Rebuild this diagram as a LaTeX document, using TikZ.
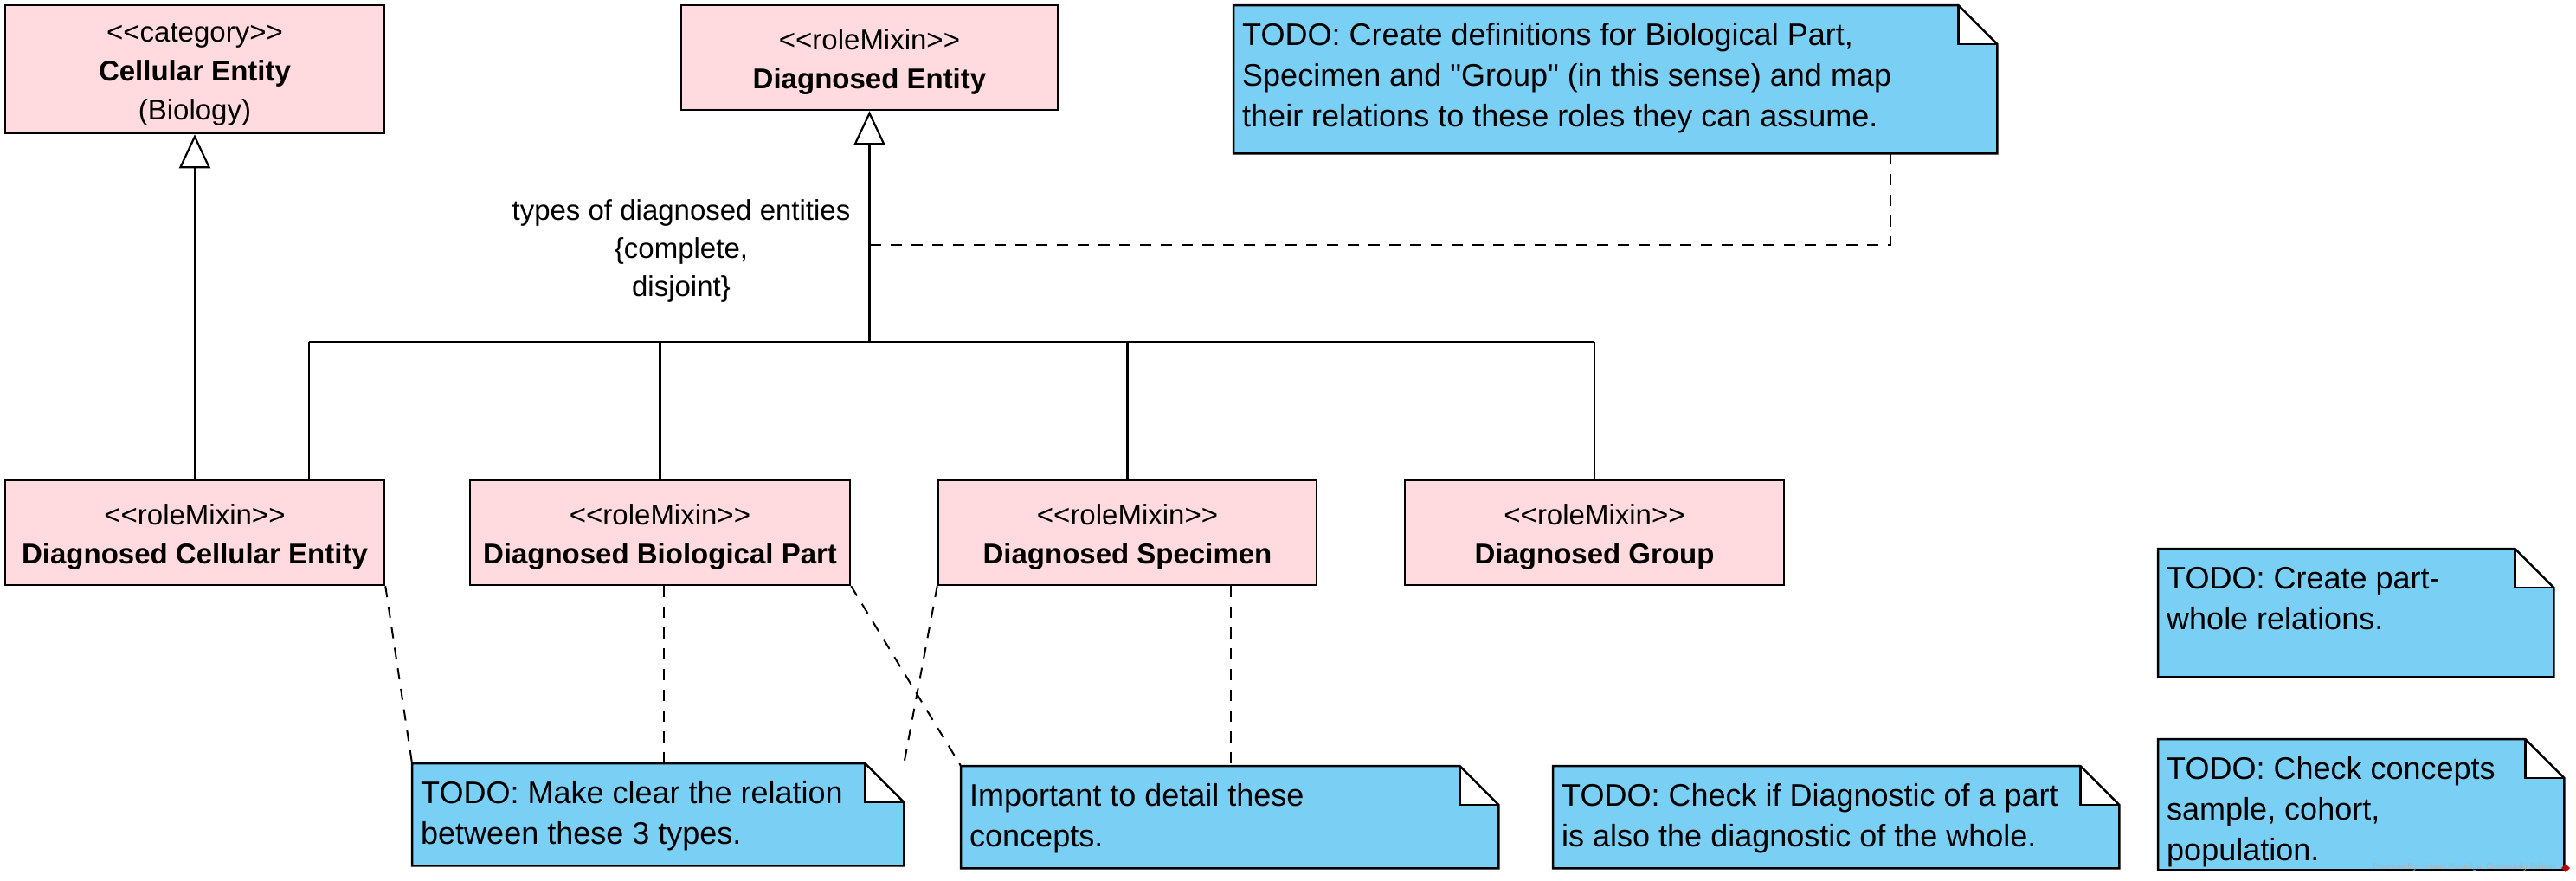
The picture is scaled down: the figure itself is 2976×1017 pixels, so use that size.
\documentclass[tikz,border=0pt]{standalone}
\usepackage{fontspec}
\newfontfamily\umlfont{Liberation Sans}
\usetikzlibrary{arrows.meta,calc}

\definecolor{classpink}{RGB}{255,218,222}
\definecolor{noteblue}{RGB}{122,207,245}

% size of the dog-eared corner of a note
\newcommand\notefoldlen{45pt}
% note body: fixed-size box, text hanging from the top with a left inset
\newcommand\notetext[3]{\parbox[c][#2pt][t]{#1pt}{\raggedright\leftskip=10pt\relax\rule{0pt}{46pt}#3}}
% extra head room on the first line of a class compartment
\newcommand\classstrut{\rule{0pt}{34pt}}
% outline and folded corner of a note node
\newcommand\drawnote[1]{%
  \fill[white] ([xshift=-\notefoldlen]#1.north east) rectangle ([yshift=-\notefoldlen]#1.north east);
  \draw[noteline] (#1.north west) -- ([xshift=-\notefoldlen]#1.north east)
    -- ([yshift=-\notefoldlen]#1.north east) -- (#1.south east) -- (#1.south west) -- cycle;
  \draw[noteline] ([xshift=-\notefoldlen]#1.north east) |- ([yshift=-\notefoldlen]#1.north east);
}

\begin{document}
\begin{tikzpicture}[x=1pt,y=-1pt,
  classbox/.style={draw, line width=2.5pt, fill=classpink, inner sep=0pt, align=center,
    font=\umlfont\fontsize{33}{45}\selectfont},
  note/.style={fill=noteblue, inner sep=0pt, anchor=north west,
    font=\umlfont\fontsize{36}{47}\selectfont},
  noteline/.style={line width=2.5pt, line join=miter},
  genline/.style={line width=2.2pt},
  genarrow/.style={genline, -{Triangle[open, fill=white, length=39pt, width=36pt, line width=2.2pt]}},
  anchorline/.style={line width=2pt, dash pattern=on 13pt off 11pt},
  constraint/.style={inner sep=0pt, align=center, font=\umlfont\fontsize{33}{44}\selectfont}
]
\fill[white] (0,0) rectangle (2976,1017);
\useasboundingbox (0,0) rectangle (2976,1017);

% classes
\node[classbox, minimum width=438pt, minimum height=148pt] (CE) at (225,80)
  {\classstrut<<category>>\\\textbf{Cellular Entity}\\(Biology)};
\node[classbox, minimum width=435pt, minimum height=121pt] (DE) at (1004.5,66.5)
  {\classstrut<<roleMixin>>\\\textbf{Diagnosed Entity}};
\node[classbox, minimum width=438pt, minimum height=121pt] (DCE) at (225,615.5)
  {\classstrut<<roleMixin>>\\\textbf{Diagnosed Cellular Entity}};
\node[classbox, minimum width=439pt, minimum height=121pt] (BP) at (762.5,615.5)
  {\classstrut<<roleMixin>>\\\textbf{Diagnosed Biological Part}};
\node[classbox, minimum width=437pt, minimum height=121pt] (SP) at (1302.5,615.5)
  {\classstrut<<roleMixin>>\\\textbf{Diagnosed Specimen}};
\node[classbox, minimum width=438pt, minimum height=121pt] (GR) at (1842,615.5)
  {\classstrut<<roleMixin>>\\\textbf{Diagnosed Group}};

% generalization set
\coordinate (bar) at (0,395);
\coordinate (jDCE) at (357,395);
\draw[genline] (jDCE) -- (GR.north |- bar);
\draw[genline] (jDCE) -- (jDCE |- DCE.north);
\draw[genline] (BP.north |- bar) -- (BP.north);
\draw[genline] (SP.north |- bar) -- (SP.north);
\draw[genline] (GR.north |- bar) -- (GR.north);
\draw[genarrow] (DE.south |- bar) -- (DE.south);
\draw[genarrow] (DCE.north) -- (CE.south);

\node[constraint] (gset) at (787,290)
  {types of diagnosed entities\\\{complete,\\disjoint\}};

% notes
\node[note] (nA) at (1425,6) {\notetext{882}{171}{TODO: Create definitions for Biological Part,\\Specimen and "Group" (in this sense) and map\\their relations to these roles they can assume.}};
\node[note] (nB) at (476,882) {\notetext{568}{118}{TODO: Make clear the relation\\between these 3 types.}};
\node[note] (nC) at (1110,885) {\notetext{621}{118}{Important to detail these\\concepts.}};
\node[note] (nD) at (1794,885) {\notetext{654}{118}{TODO: Check if Diagnostic of a part\\is also the diagnostic of the whole.}};
\node[note] (nE) at (2493,634) {\notetext{457}{148}{TODO: Create part-\\whole relations.}};
\node[note] (nF) at (2493,854) {\notetext{469}{151}{TODO: Check concepts\\sample, cohort,\\population.}};
\drawnote{nA}
\drawnote{nB}
\drawnote{nC}
\drawnote{nD}
\drawnote{nE}
\drawnote{nF}

% note anchors
\coordinate (aBend) at (2184,283);
\draw[anchorline] (nA.south -| aBend) -- (aBend) -- (aBend -| DE.south);
\coordinate (xBP) at (767,0);
\coordinate (xSP) at (1422,0);
\draw[anchorline] (DCE.south east) -- (nB.north west);
\draw[anchorline] (BP.south -| xBP) -- (nB.north -| xBP);
\draw[anchorline] (SP.south west) -- (nB.north east);
\draw[anchorline] (BP.south east) -- (nC.north west);
\draw[anchorline] (SP.south -| xSP) -- (nC.north -| xSP);

% editor credit
\node[inner sep=0pt, anchor=east, text=gray!60, font=\umlfont\fontsize{9.5}{10}\selectfont] (wm) at (2952,1002)
  {Powered By:\ \ Visual Paradigm Community Edition};
\node[fill=red!75!black, rotate=45, minimum size=7pt, inner sep=0pt] (vplogo) at (2964,1003) {};
\end{tikzpicture}
\end{document}
